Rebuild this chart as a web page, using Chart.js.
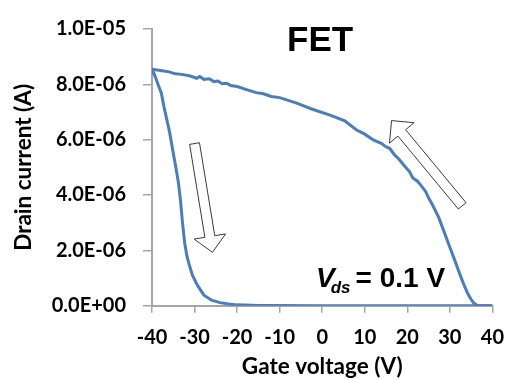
<!DOCTYPE html>
<html>
<head>
<meta charset="utf-8">
<script src="https://cdn.jsdelivr.net/npm/chart.js@4"></script>
<style>
  html, body { margin:0; padding:0; background:#fff; }
  #wrap { width:517px; height:380px; }
</style>
</head>
<body>
<div id="wrap"><canvas id="fetChart" width="517" height="380"></canvas></div>
<script>

/* DATA */

/* first sweep : -40 V -> 40 V (lower branch) */
const sweep1Gate = [
  -40, -39.3, -38.6, -37.8, -37.2, -36.6, -35.9, -35.1, -34.4, -33.8,
  -33.3, -32.8, -32.3, -31.8, -31.3, -30.5, -29.6, -29.0, -27.8, -26.0,
  -24.0, -22.0, -20.0, -15.0, -10.0, 0, 10, 20, 30, 40
];

const sweep1Current = [
  8.55e-6, 8.3e-6, 8.0e-6, 7.68e-6, 7.2e-6, 6.78e-6, 6.3e-6, 5.6e-6, 5.0e-6, 4.45e-6,
  3.8e-6, 2.95e-6, 2.25e-6, 1.8e-6, 1.5e-6, 1.1e-6, 0.82e-6, 0.66e-6, 0.38e-6, 0.2e-6,
  0.11e-6, 0.06e-6, 0.03e-6, 0.01e-6, 0.005e-6, 0, 0, 0, 0, 0
];

/* second sweep : 40 V -> -40 V (upper branch) */
const sweep2Gate = [
  40, 37.5, 36.5, 35.6, 34.9, 34.2, 33.2, 32.3, 31.2, 30.0,
  28.7, 27.4, 26.0, 25.0, 24.3, 23.2, 22.4, 21.3, 20.5, 19.5,
  18.0, 17.0, 15.9, 14.8, 14.0, 12.1, 10.0, 8.0, 5.3, 2.0,
  -2.3, -6.0, -10.0, -12.0, -13.8, -15.5, -17.6, -20.0, -21.5, -22.5,
  -23.5, -24.5, -25.5, -26.5, -27.8, -28.8, -29.5, -31.0, -33.0, -34.5,
  -36.0, -38.0, -40
];

const sweep2Current = [
  0, 0, 0.01e-6, 0.1e-6, 0.25e-6, 0.44e-6, 0.8e-6, 1.16e-6, 1.62e-6, 2.11e-6,
  2.65e-6, 3.18e-6, 3.62e-6, 3.9e-6, 4.13e-6, 4.35e-6, 4.5e-6, 4.62e-6, 4.85e-6, 5.02e-6,
  5.3e-6, 5.45e-6, 5.68e-6, 5.76e-6, 5.86e-6, 5.98e-6, 6.2e-6, 6.36e-6, 6.68e-6, 6.88e-6,
  7.1e-6, 7.32e-6, 7.52e-6, 7.56e-6, 7.66e-6, 7.7e-6, 7.8e-6, 7.92e-6, 7.96e-6, 8.04e-6,
  8.02e-6, 8.12e-6, 8.1e-6, 8.2e-6, 8.18e-6, 8.28e-6, 8.22e-6, 8.3e-6, 8.36e-6, 8.38e-6,
  8.45e-6, 8.5e-6, 8.55e-6
];

/* TICKS */

const xTickLabels = [
  "-40", "-30", "-20", "-10", "0", "10", "20", "30", "40"
];

const yTickLabels = [
  "0.0E+00", "2.0E-06", "4.0E-06", "6.0E-06", "8.0E-06", "1.0E-05"
];

/* NOTES (arrow tail/tip, in axis units) */

const arrowNotes = [
  { from:[-30.0, 5.86e-6], to:[-25.8, 1.93e-6] },
  { from:[32.9, 3.61e-6], to:[16.3, 6.69e-6] }
];

function toPoints(xs, ys){
  return xs.map((v, i) => ({ x:v, y:ys[i] }));
}

/* ARROWS + TEXT */

function drawHollowArrow(ctx, x0, y0, x1, y1){

  const shaft = 10;
  const headW = 32;
  const headL = 16;

  const len = Math.hypot(x1 - x0, y1 - y0);
  const dx = (x1 - x0) / len;
  const dy = (y1 - y0) / len;
  const nx = -dy;
  const ny = dx;

  const bx = x1 - dx * headL;
  const by = y1 - dy * headL;

  ctx.beginPath();
  ctx.moveTo(x0 + nx * shaft / 2, y0 + ny * shaft / 2);
  ctx.lineTo(bx + nx * shaft / 2, by + ny * shaft / 2);
  ctx.lineTo(bx + nx * headW / 2, by + ny * headW / 2);
  ctx.lineTo(x1, y1);
  ctx.lineTo(bx - nx * headW / 2, by - ny * headW / 2);
  ctx.lineTo(bx - nx * shaft / 2, by - ny * shaft / 2);
  ctx.lineTo(x0 - nx * shaft / 2, y0 - ny * shaft / 2);
  ctx.closePath();

  ctx.fillStyle = "#ffffff";
  ctx.fill();
  ctx.lineWidth = 1;
  ctx.strokeStyle = "#3a3a3a";
  ctx.stroke();

}

const notesPlugin = {

  id:"fetNotes",

  afterDatasetsDraw(chart){

    const ctx = chart.ctx;
    const xs = chart.scales.x;
    const ys = chart.scales.y;

    ctx.save();

    arrowNotes.forEach(a => {
      drawHollowArrow(
        ctx,
        xs.getPixelForValue(a.from[0]), ys.getPixelForValue(a.from[1]),
        xs.getPixelForValue(a.to[0]), ys.getPixelForValue(a.to[1])
      );
    });

    /* FET */
    ctx.fillStyle = "#000000";
    ctx.textAlign = "center";
    ctx.textBaseline = "alphabetic";
    ctx.font = "bold 35px 'Liberation Sans'";
    ctx.fillText(
      "FET",
      xs.getPixelForValue(-0.5),
      ys.getPixelForValue(9.2e-6)
    );

    /* V_ds = 0.1 V */
    ctx.textAlign = "left";
    let px = xs.getPixelForValue(-1.45);
    const py = ys.getPixelForValue(0.68e-6);

    ctx.font = "italic bold 28px 'Liberation Sans'";
    ctx.fillText("V", px, py);
    px += ctx.measureText("V").width - 4;

    ctx.font = "italic bold 17px 'Liberation Sans'";
    ctx.fillText("ds", px, py + 6);
    px += ctx.measureText("ds").width + 5;

    ctx.font = "bold 28px 'Liberation Sans'";
    ctx.fillText("= 0.1 V", px, py);

    ctx.restore();

  }

};

/* CHART */

const axisGray = "#a6a6a6";
const tickFont = { family:"Lato", weight:"bold", size:20 };
const titleFont = { family:"Lato", weight:"bold", size:22.5 };

const ctx =
document.getElementById(
  "fetChart"
);

const fetChart =
new Chart(ctx, {

  type:"scatter",

  data:{
    datasets:[
      {
        data:toPoints(sweep1Gate, sweep1Current),
        showLine:true,
        borderColor:"#4a7ebb",
        borderWidth:3,
        pointRadius:0,
        tension:0
      },
      {
        data:toPoints(sweep2Gate, sweep2Current),
        showLine:true,
        borderColor:"#4a7ebb",
        borderWidth:3,
        pointRadius:0,
        tension:0
      }
    ]
  },

  options:{
    responsive:false,
    animation:false,
    layout:{
      padding:{ top:25.7, right:15, bottom:0, left:0 }
    },
    plugins:{
      legend:{ display:false },
      tooltip:{ enabled:false }
    },
    scales:{
      x:{
        type:"linear",
        min:-40,
        max:40,
        afterFit(scale){ scale.height = 74.3; },
        afterBuildTicks(scale){
          scale.ticks = xTickLabels.map(t => ({ value:Number(t) }));
        },
        ticks:{
          autoSkip:false,
          maxRotation:0,
          color:"#000000",
          font:tickFont,
          padding:13,
          callback:(v, i) => xTickLabels[i]
        },
        grid:{
          drawOnChartArea:false,
          tickLength:7,
          color:axisGray,
          lineWidth:1.5
        },
        border:{ color:axisGray, width:2 },
        title:{
          display:true,
          text:"Gate voltage (V)",
          color:"#000000",
          font:titleFont,
          padding:{ top:0, bottom:0 }
        }
      },
      y:{
        type:"linear",
        min:0,
        max:1e-5,
        afterFit(scale){ scale.width = 152; },
        afterBuildTicks(scale){
          scale.ticks = yTickLabels.map(t => ({ value:Number(t) }));
        },
        ticks:{
          autoSkip:false,
          color:"#000000",
          font:tickFont,
          padding:17,
          callback:(v, i) => yTickLabels[i]
        },
        grid:{
          drawOnChartArea:false,
          tickLength:9,
          color:axisGray,
          lineWidth:1.5
        },
        border:{ color:axisGray, width:2 },
        title:{
          display:true,
          text:"Drain current (A)",
          color:"#000000",
          font:titleFont,
          padding:{ top:10, bottom:0 }
        }
      }
    }
  },

  plugins:[notesPlugin]

});

</script>
</body>
</html>
